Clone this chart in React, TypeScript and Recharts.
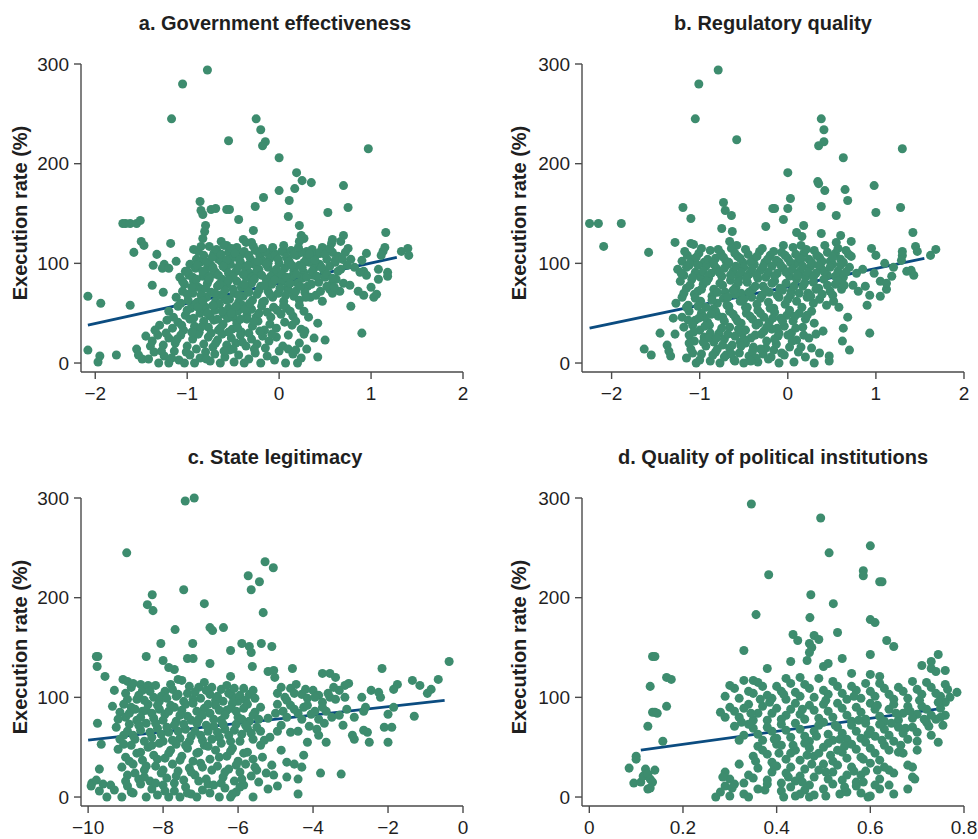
import React from 'react';
import { ScatterChart, Scatter, XAxis, YAxis, ReferenceLine } from 'recharts';

type Pt = [number, number];

// shared y ticks, per-panel x ticks
const yTicks = [0, 100, 200, 300];
const ticksGov = [-2, -1, 0, 1, 2];
const ticksReg = [-2, -1, 0, 1, 2];
const ticksLeg = [-10, -8, -6, -4, -2, 0];
const ticksPol = [0, 0.2, 0.4, 0.6, 0.8];

// fitted lines (end points)
const trendGov: Pt[] = [[-2.08, 38], [1.28, 106]];
const trendReg: Pt[] = [[-2.25, 35], [1.55, 105]];
const trendLeg: Pt[] = [[-10, 57], [-0.49, 97]];
const trendPol: Pt[] = [[0.11, 47], [0.754, 89]];

// a. Government effectiveness
const govEff: Pt[] = [
  [-0.78,294],[-1.05,280],[-1.17,245],[-0.25,245],[-0.2,234],[-0.15,222],[-0.18,218],[-0.55,223],[0.0,206],[0.97,215],
  [0.19,191],[0.25,183],[0.35,181],[0.7,178],[0.0,173],[0.17,175],[-0.17,166],[0.11,163],[-0.26,157],[0.75,156],
  [0.53,151],[-0.86,162],[-0.85,153],[-0.83,149],[-0.74,154],[-0.69,155],[-0.57,154],[-0.54,154],[-0.44,144],[0.1,147],
  [-0.28,133],[-0.8,138],[-0.81,132],[-0.83,125],[0.22,138],[0.24,128],[0.27,125],[0.22,122],[1.16,131],[-1.7,140],
  [-1.67,140],[-1.62,140],[-1.55,140],[-1.51,143],[-1.5,122],[-1.47,118],[-1.58,111],[-1.18,120],[-1.33,109],[-1.37,98],
  [-1.25,99],[-1.27,95],[-1.38,78],[-1.26,71],[-1.62,58],[-2.08,67],[-1.94,60],[-2.08,13],[-1.95,7],[-1.97,1],
  [-1.77,8],[-1.55,14],[-1.53,8],[-1.49,4],[0.42,6],[0.5,23],[0.9,30],[0.78,57],[0.42,40],[0.38,25],
  [0.95,110],[1.03,66],[1.06,69],[1.0,76],[1.08,84],[1.08,94],[1.18,91],[1.18,87],[1.13,112],[1.15,116],
  [1.11,108],[1.33,112],[1.4,115],[1.41,108],[0.75,115],[0.7,128],[0.67,122],[0.57,120],[0.58,124],[0.9,103],
  [0.92,92],[0.95,88],[0.92,68],[0.86,72],[-1.12,102],[-1.2,95],[-0.63,122],[-0.57,118],[-0.39,124],[-0.3,121],
  [-0.1,111],[0.05,112],[0.3,112],[0.45,110],
  [-0.93,114],[-0.88,112],[-0.82,108],[-0.76,117],[-0.71,110],[-0.66,104],[-0.6,118],[-0.55,111],[-0.5,106],[-0.46,116],
  [-0.41,109],[-0.36,121],[-0.31,104],[-0.26,113],[-0.21,108],[-0.15,111],[-0.1,105],[-0.04,109],[0.03,112],[0.08,106],
  [0.13,113],[0.19,108],[0.24,111],[0.3,105],[0.36,114],[0.41,109],[0.47,116],[0.52,104],[0.58,111],[0.64,107],
  [0.72,111],[0.78,104],
  [-1.02,92],[-0.97,99],[-0.91,95],[-0.86,101],[-0.8,93],[-0.74,98],[-0.69,91],[-0.63,102],[-0.58,95],[-0.53,99],
  [-0.47,92],[-0.42,101],[-0.37,96],[-0.32,90],[-0.27,99],[-0.22,94],[-0.17,102],[-0.12,96],[-0.06,91],[0.0,100],
  [0.06,95],[0.11,102],[0.16,93],[0.22,98],[0.27,91],[0.33,101],[0.38,95],[0.44,99],[0.49,92],[0.55,97],
  [0.61,101],[0.67,94],[0.74,98],[0.82,96],[0.88,91],
  [-1.08,86],[-1.03,79],[-0.98,88],[-0.93,82],[-0.88,76],[-0.83,87],[-0.78,80],[-0.72,89],[-0.67,77],[-0.62,84],
  [-0.57,79],[-0.52,88],[-0.46,82],[-0.41,76],[-0.36,86],[-0.3,80],[-0.25,89],[-0.2,77],[-0.14,84],[-0.08,79],
  [-0.03,88],[0.03,82],[0.09,76],[0.14,87],[0.2,80],[0.25,85],[0.31,77],[0.37,88],[0.43,81],[0.5,86],
  [0.56,78],[0.62,84],[0.7,80],[0.77,78],[0.55,74],
  [-1.12,66],[-1.05,72],[-0.99,63],[-0.94,70],[-0.89,61],[-0.84,74],[-0.79,66],[-0.74,71],[-0.69,62],[-0.64,68],
  [-0.59,73],[-0.54,64],[-0.49,70],[-0.44,61],[-0.39,67],[-0.34,74],[-0.29,63],[-0.24,69],[-0.18,61],[-0.12,72],
  [-0.07,66],[-0.01,70],[0.05,62],[0.1,73],[0.16,67],[0.22,63],[0.28,71],[0.34,66],[0.4,68],[0.47,62],
  [0.58,70],[0.66,72],
  [-1.2,52],[-1.1,57],[-1.02,48],[-0.96,55],[-0.91,59],[-0.86,50],[-0.8,56],[-0.75,47],[-0.7,53],[-0.65,59],
  [-0.6,49],[-0.55,55],[-0.5,46],[-0.45,52],[-0.4,58],[-0.35,48],[-0.3,54],[-0.25,46],[-0.19,57],[-0.13,51],
  [-0.06,56],[0.02,49],[0.08,55],[0.15,47],[0.22,58],[0.27,52],[0.32,46],
  [-1.3,38],[-1.22,43],[-1.16,35],[-1.1,41],[-1.04,33],[-0.97,44],[-0.92,37],[-0.87,31],[-0.82,42],[-0.77,36],
  [-0.71,43],[-0.66,33],[-0.61,39],[-0.56,45],[-0.51,34],[-0.46,40],[-0.41,31],[-0.35,44],[-0.29,37],[-0.23,42],
  [-0.16,33],[-0.1,39],[-0.03,35],[0.06,41],[0.14,38],[0.24,34],[0.28,32],
  [-1.45,27],[-1.38,22],[-1.32,28],[-1.26,18],[-1.2,25],[-1.13,20],[-1.07,28],[-1.0,17],[-0.94,24],[-0.88,29],
  [-0.82,19],[-0.77,26],[-0.72,16],[-0.67,23],[-0.62,29],[-0.57,18],[-0.52,25],[-0.47,20],[-0.42,28],[-0.36,17],
  [-0.3,24],[-0.24,19],[-0.18,27],[-0.11,22],[-0.03,26],[0.04,17],[0.1,14],[0.18,13],[0.22,20],[0.27,29],
  [0.3,14],
  [-1.42,4],[-1.36,11],[-1.31,0],[-1.25,7],[-1.2,0],[-1.14,12],[-1.09,3],[-1.03,0],[-0.97,8],[-0.92,0],
  [-0.86,5],[-0.8,11],[-0.75,2],[-0.7,9],[-0.64,0],[-0.59,6],[-0.54,13],[-0.49,1],[-0.44,8],[-0.38,0],
  [-0.33,4],[-0.26,10],[-0.2,0],[-0.13,7],[-0.05,3],[0.07,0],[0.15,9],[0.2,0],[0.24,5],
  [-0.9,104],[-0.85,117],[-0.79,101],[-0.73,106],[-0.68,114],[-0.63,109],[-0.57,103],[-0.52,115],[-0.48,110],[-0.43,103],
  [-0.38,112],[-0.33,108],[-0.28,117],[-0.23,102],[-0.18,115],[-0.12,100],[-0.07,116],[-0.01,104],[0.05,118],[0.1,101],
  [0.16,109],[0.21,116],[0.27,101],[0.33,109],[0.39,103],[0.44,111],[0.5,109],[0.55,115],[0.61,103],[0.69,104],
  [-0.99,91],[-0.94,86],[-0.89,98],[-0.83,92],[-0.77,86],[-0.72,96],[-0.66,88],[-0.61,97],[-0.55,90],[-0.5,86],
  [-0.45,96],[-0.39,89],[-0.34,98],[-0.29,86],[-0.24,93],[-0.19,88],[-0.14,99],[-0.09,87],[-0.03,94],[0.03,89],
  [0.08,86],[0.14,98],[0.19,89],[0.25,96],[0.3,86],[0.36,92],[0.41,87],[0.46,96],[0.52,89],[0.58,85],
  [0.64,92],
  [-1.05,82],[-1.0,69],[-0.95,76],[-0.9,84],[-0.85,68],[-0.8,75],[-0.76,84],[-0.7,70],[-0.65,79],[-0.6,66],
  [-0.55,83],[-0.5,74],[-0.44,68],[-0.38,79],[-0.33,71],[-0.27,84],[-0.22,73],[-0.16,78],[-0.1,69],[-0.05,83],
  [0.01,75],[0.07,68],[0.12,80],[0.18,72],[0.23,77],[0.29,66],[0.35,79],[0.45,72],[0.52,77],[0.6,76],
  [-1.15,46],[-1.07,60],[-1.0,53],[-0.93,45],[-0.88,56],[-0.83,62],[-0.78,50],[-0.72,58],[-0.67,44],[-0.62,52],
  [-0.57,63],[-0.52,50],[-0.47,57],[-0.42,44],[-0.37,54],[-0.32,60],[-0.27,42],[-0.22,50],[-0.16,62],[-0.09,46],
  [-0.02,53],[0.05,58],[0.12,52],[0.18,42],
  [-1.4,17],[-1.35,33],[-1.28,12],[-1.23,30],[-1.17,5],[-1.11,24],[-1.06,38],[-1.01,11],[-0.95,31],[-0.9,14],
  [-0.85,36],[-0.79,4],[-0.74,30],[-0.69,20],[-0.64,35],[-0.6,12],[-0.55,31],[-0.5,14],[-0.45,35],[-0.4,21],
  [-0.33,30],[-0.27,14],[-0.21,32],[-0.15,15],[-0.08,29],[0.0,12],[0.1,28],
];

// b. Regulatory quality
const regQual: Pt[] = [
  [-0.79,294],[-1.01,280],[-1.05,245],[-0.58,224],[0.38,245],[0.41,234],[0.41,222],[0.35,218],[0.63,206],[1.3,215],
  [0.0,191],[0.34,182],[0.35,180],[0.42,173],[0.03,165],[0.98,178],[0.65,174],[0.68,163],[0.38,157],[0.55,148],
  [1.0,151],[1.28,156],[0.0,155],[-0.17,155],[-0.15,155],[-0.05,144],[-0.25,137],[-0.73,161],[-0.71,153],[-0.64,148],
  [-0.75,135],[-0.63,132],[-1.19,156],[-1.1,145],[-2.25,140],[-2.15,140],[-1.89,140],[-2.09,117],[-1.58,111],[-1.28,121],
  [-1.1,120],[-1.07,119],[0.1,131],[0.16,127],[0.18,138],[0.38,130],[0.6,128],[0.72,122],[1.42,131],[1.3,112],
  [1.3,108],[1.29,103],[1.45,117],[1.47,112],[1.62,108],[1.68,114],[1.4,93],[1.43,88],[1.35,92],[0.93,30],
  [0.7,13],[0.68,46],[0.63,35],[0.62,22],[0.47,7],[0.47,2],[0.3,0],[0.07,1],[-1.63,14],[-1.55,8],
  [-1.45,30],[-1.37,18],[-1.35,12],[-1.33,7],[-1.3,45],[-1.28,29],[0.9,58],[0.88,77],[0.93,68],[0.98,90],
  [1.05,82],[1.05,67],[1.12,74],[1.18,87],[1.2,96],[1.1,100],[1.0,108],[0.95,115],[1.12,80],[-0.58,118],
  [-0.66,122],[0.15,118],[-0.05,118],[0.55,121],
  [-1.2,102],[-1.14,108],[-1.08,104],[-1.01,110],[-0.95,101],[-0.88,113],[-0.82,105],[-0.76,110],[-0.7,102],[-0.64,115],
  [-0.57,107],[-0.51,101],[-0.45,109],[-0.39,104],[-0.32,112],[-0.26,101],[-0.2,108],[-0.13,103],[-0.07,111],[0.0,105],
  [0.06,116],[0.12,102],[0.18,110],[0.24,104],[0.3,113],[0.36,106],[0.42,118],[0.48,102],[0.54,110],[0.6,104],
  [0.66,113],[0.72,107],
  [-1.25,94],[-1.18,88],[-1.12,98],[-1.05,91],[-0.99,86],[-0.93,97],[-0.87,90],[-0.81,95],[-0.75,87],[-0.68,99],
  [-0.62,92],[-0.56,86],[-0.5,96],[-0.44,89],[-0.38,99],[-0.31,93],[-0.25,86],[-0.18,97],[-0.12,90],[-0.05,95],
  [0.02,87],[0.08,99],[0.14,92],[0.2,86],[0.26,97],[0.32,90],[0.38,95],[0.45,88],[0.51,99],[0.57,92],
  [0.63,86],[0.7,96],[0.78,90],[0.85,94],
  [-1.22,82],[-1.15,75],[-1.09,84],[-1.02,72],[-0.96,79],[-0.9,85],[-0.84,74],[-0.77,80],[-0.71,71],[-0.65,83],
  [-0.59,76],[-0.53,70],[-0.46,81],[-0.4,74],[-0.34,85],[-0.28,77],[-0.21,71],[-0.15,82],[-0.09,75],[-0.02,80],
  [0.04,72],[0.1,84],[0.17,77],[0.23,70],[0.29,81],[0.35,75],[0.41,84],[0.48,72],[0.54,79],[0.61,74],
  [0.74,78],[0.8,72],
  [-1.27,60],[-1.2,66],[-1.13,58],[-1.06,69],[-0.99,62],[-0.93,56],[-0.86,67],[-0.8,60],[-0.73,65],[-0.67,57],
  [-0.6,69],[-0.54,62],[-0.48,56],[-0.41,66],[-0.35,59],[-0.29,68],[-0.22,61],[-0.16,55],[-0.1,66],[-0.03,59],
  [0.03,68],[0.1,62],[0.16,56],[0.22,66],[0.29,60],[0.36,64],[0.44,58],[0.52,62],[0.58,56],
  [-1.2,46],[-1.12,52],[-1.05,43],[-0.98,50],[-0.91,41],[-0.85,54],[-0.79,47],[-0.72,42],[-0.66,52],[-0.59,45],
  [-0.53,40],[-0.47,50],[-0.4,44],[-0.34,53],[-0.27,46],[-0.21,41],[-0.15,51],[-0.08,45],[-0.01,48],[0.06,42],
  [0.13,50],[0.2,44],[0.27,52],
  [-1.18,36],[-1.12,28],[-1.06,22],[-1.0,33],[-0.95,26],[-0.89,38],[-0.84,21],[-0.78,30],[-0.72,24],[-0.66,36],
  [-0.6,27],[-0.54,21],[-0.48,33],[-0.42,25],[-0.36,38],[-0.3,29],[-0.24,22],[-0.18,34],[-0.11,27],[-0.04,37],
  [0.04,30],[0.1,23],[0.17,36],[0.24,25],[0.32,29],[0.4,32],
  [-1.15,5],[-1.1,14],[-1.04,0],[-0.98,9],[-0.93,17],[-0.88,2],[-0.82,11],[-0.77,0],[-0.72,6],[-0.66,15],
  [-0.61,3],[-0.55,10],[-0.5,0],[-0.44,7],[-0.39,16],[-0.34,1],[-0.28,9],[-0.22,4],[-0.16,13],[-0.1,0],
  [-0.04,8],[0.02,16],[0.12,11],[0.2,6],[0.27,15],[0.36,10],
  [-1.17,112],[-1.11,100],[-1.04,106],[-0.98,115],[-0.91,104],[-0.85,101],[-0.79,114],[-0.73,106],[-0.67,101],[-0.6,110],
  [-0.54,105],[-0.48,114],[-0.42,101],[-0.35,107],[-0.29,115],[-0.23,104],[-0.16,112],[-0.1,101],[-0.03,108],[0.03,101],
  [0.09,109],[0.15,104],[0.21,114],[0.27,101],[0.33,108],[0.39,102],[0.45,111],[0.51,106],[0.57,115],[0.63,101],
  [0.69,109],
  [-1.21,90],[-1.15,96],[-1.08,86],[-1.02,98],[-0.96,92],[-0.9,87],[-0.84,99],[-0.78,91],[-0.72,95],[-0.65,88],
  [-0.59,97],[-0.53,91],[-0.47,85],[-0.41,94],[-0.35,88],[-0.28,97],[-0.22,91],[-0.15,87],[-0.08,98],[-0.02,91],
  [0.05,94],[0.11,88],[0.17,97],[0.23,91],[0.29,86],[0.35,98],[0.41,92],[0.48,96],[0.54,87],[0.6,98],
  [0.66,91],
  [-1.18,70],[-1.11,78],[-1.05,65],[-0.98,74],[-0.92,82],[-0.86,63],[-0.8,71],[-0.74,78],[-0.68,66],[-0.62,73],
  [-0.56,81],[-0.5,64],[-0.44,71],[-0.37,77],[-0.31,65],[-0.25,73],[-0.18,80],[-0.12,68],[-0.06,73],[0.0,64],
  [0.07,77],[0.13,70],[0.19,80],[0.26,67],[0.32,74],[0.39,69],[0.45,78],[0.51,68],[0.57,82],[0.64,78],
  [-1.15,56],[-1.08,38],[-1.02,57],[-0.95,46],[-0.88,30],[-0.82,52],[-0.75,35],[-0.69,58],[-0.63,18],[-0.57,42],
  [-0.52,30],[-0.46,56],[-0.4,12],[-0.33,40],[-0.27,32],[-0.2,55],[-0.13,19],[-0.06,42],[0.02,53],[0.09,35],
  [-1.12,20],[-1.0,3],[-0.9,25],[-0.8,14],[-0.7,8],[-0.6,2],[-0.48,20],[-0.36,5],[-0.25,15],[-0.15,24],
  [-0.07,10],[0.0,28],[0.15,16],[0.22,48],
  [-1.13,43],[-1.07,31],[-1.01,45],[-0.94,37],[-0.87,49],[-0.81,25],[-0.74,46],[-0.68,29],[-0.62,49],[-0.56,34],
  [-0.5,24],[-0.43,47],[-0.37,28],[-0.31,50],[-0.24,36],[-0.17,45],[-0.1,30],[-1.08,10],[-0.96,21],[-0.85,8],
  [-0.74,18],[-0.64,9],[-0.53,17],[-0.42,2],[-0.31,14],[-0.19,6],[-0.12,35],[0.05,22],[0.18,28],[0.3,40],
  [0.08,47],
];

// c. State legitimacy
const stateLeg: Pt[] = [
  [-7.17,300],[-7.41,297],[-8.97,245],[-5.28,236],[-5.06,230],[-5.73,222],[-5.43,216],[-5.65,208],[-7.45,208],[-8.29,203],
  [-8.42,193],[-8.27,187],[-5.33,185],[-6.9,194],[-7.68,168],[-6.75,170],[-6.68,167],[-6.39,170],[-8.06,154],[-7.21,154],
  [-6.2,147],[-5.9,154],[-5.7,151],[-5.65,145],[-5.38,154],[-5.1,151],[-7.35,139],[-7.2,139],[-8.45,141],[-8.0,137],
  [-7.7,128],[-7.85,130],[-6.75,134],[-5.62,131],[-5.2,126],[-5.05,127],[-5.02,120],[-4.55,129],[-9.78,141],[-9.74,141],
  [-9.76,131],[-9.55,121],[-9.3,107],[-9.07,118],[-8.95,116],[-9.75,74],[-9.65,53],[-9.7,28],[-9.9,14],[-9.92,11],
  [-9.78,17],[-9.7,6],[-9.6,13],[-9.5,0],[-9.4,12],[-3.8,24],[-3.25,23],[-4.4,3],[-4.4,18],[-4.3,30],
  [-4.5,33],[-2.0,55],[-1.3,81],[-2.1,70],[-1.9,70],[-2.0,83],[-1.85,90],[-2.16,129],[-0.37,136],[-0.66,118],
  [-0.85,108],[-0.95,104],[-1.15,112],[-1.35,117],[-1.75,113],[-1.85,108],[-2.2,100],[-2.25,105],[-2.45,107],[-2.5,55],
  [-2.55,65],[-2.65,67],[-2.65,86],[-2.6,90],[-2.7,100],[-2.9,58],[-2.95,62],[-3.05,114],[-3.15,112],[-3.3,107],
  [-3.15,100],[-3.55,124],[-3.75,124],[-3.4,120],[-3.45,110],[-3.55,100],[-3.65,55],[-6.2,121],[-7.6,118],[-8.6,113],
  [-9.0,104],[-8.85,110],[-8.7,98],[-8.55,107],[-8.4,112],[-8.25,100],[-8.1,96],[-7.95,106],[-7.8,113],[-7.65,101],
  [-7.5,117],[-7.35,104],[-7.2,98],[-7.05,110],[-6.9,115],[-6.75,103],[-6.6,97],[-6.45,108],[-6.3,112],[-6.15,101],
  [-6.0,96],[-5.85,109],[-5.7,103],[-5.55,99],[-4.95,104],[-4.75,100],[-4.6,109],[-4.45,113],[-4.3,103],[-4.15,99],
  [-4.0,107],[-3.85,102],[-3.4,98],
  [-9.35,91],[-9.15,85],[-9.0,80],[-8.85,90],[-8.7,77],[-8.55,86],[-8.4,93],[-8.25,79],[-8.1,88],[-7.95,83],
  [-7.8,92],[-7.65,76],[-7.5,87],[-7.35,81],[-7.2,94],[-7.05,78],[-6.9,89],[-6.75,84],[-6.6,92],[-6.45,77],
  [-6.3,87],[-6.15,94],[-6.0,80],[-5.85,89],[-5.7,76],[-5.55,85],[-5.4,90],[-5.2,79],[-4.95,93],[-4.8,86],
  [-4.6,92],[-4.4,84],[-4.25,90],[-4.05,83],[-3.85,78],[-3.65,86],[-3.3,82],[-3.1,88],[-2.9,80],
  [-9.25,70],[-9.05,62],[-8.9,73],[-8.75,58],[-8.6,67],[-8.45,74],[-8.3,60],[-8.15,69],[-8.0,56],[-7.85,65],
  [-7.7,72],[-7.55,59],[-7.4,68],[-7.25,61],[-7.1,74],[-6.95,57],[-6.8,66],[-6.65,71],[-6.5,60],[-6.35,68],
  [-6.2,56],[-6.05,73],[-5.9,63],[-5.75,69],[-5.6,58],[-5.4,66],[-5.15,60],[-4.85,72],[-4.6,65],[-4.1,71],
  [-3.9,68],[-3.7,74],[-3.2,72],
  [-9.2,48],[-9.0,40],[-8.85,52],[-8.7,44],[-8.55,37],[-8.4,50],[-8.25,42],[-8.1,54],[-7.95,39],[-7.8,47],
  [-7.65,53],[-7.5,41],[-7.35,49],[-7.2,36],[-7.05,45],[-6.9,52],[-6.75,38],[-6.6,47],[-6.45,54],[-6.3,41],
  [-6.15,49],[-6.0,36],[-5.85,44],[-5.6,38],[-5.4,52],[-4.85,47],[-4.7,35],[-4.25,42],[-4.15,55],
  [-9.1,30],[-8.95,22],[-8.8,33],[-8.65,18],[-8.5,27],[-8.35,16],[-8.2,31],[-8.05,24],[-7.9,19],[-7.75,33],
  [-7.6,26],[-7.45,17],[-7.3,29],[-7.15,22],[-7.0,34],[-6.85,18],[-6.7,27],[-6.55,31],[-6.4,20],[-6.25,28],
  [-6.1,16],[-5.95,25],[-5.8,33],[-5.65,21],[-5.5,27],[-5.25,24],[-5.05,22],[-4.7,20],
  [-9.3,7],[-9.1,0],[-8.95,11],[-8.8,4],[-8.6,13],[-8.45,0],[-8.3,8],[-8.15,2],[-8.0,12],[-7.85,0],
  [-7.7,6],[-7.55,0],[-7.4,10],[-7.25,3],[-7.1,0],[-6.95,7],[-6.8,13],[-6.5,0],[-6.35,9],[-6.2,0],
  [-6.05,5],[-5.85,12],[-5.6,0],[-5.2,8],[-4.95,11],
  [-8.95,98],[-8.8,114],[-8.65,102],[-8.5,97],[-8.35,106],[-8.2,112],[-8.05,101],[-7.9,99],[-7.75,108],[-7.6,103],
  [-7.45,96],[-7.3,111],[-7.15,105],[-7.0,99],[-6.85,107],[-6.7,110],[-6.55,101],[-6.4,96],[-6.25,104],[-6.1,109],
  [-5.95,102],[-5.8,97],[-5.6,107],[-4.85,110],[-4.7,97],[-4.5,104],[-4.2,108],[-3.95,100],[-3.75,95],[-3.6,104],
  [-9.2,78],[-9.05,93],[-8.9,84],[-8.75,88],[-8.6,80],[-8.45,87],[-8.3,84],[-8.15,92],[-8.0,77],[-7.85,86],
  [-7.7,90],[-7.55,82],[-7.4,93],[-7.25,77],[-7.1,86],[-6.95,82],[-6.8,93],[-6.65,78],[-6.5,87],[-6.35,82],
  [-6.2,89],[-6.05,86],[-5.9,78],[-5.75,93],[-5.6,82],[-5.45,78],[-5.0,84],[-4.7,80],[-4.5,88],[-4.3,78],
  [-4.15,92],[-3.95,86],[-3.75,90],[-3.5,80],
  [-9.15,58],[-8.95,66],[-8.8,62],[-8.65,72],[-8.5,56],[-8.35,65],[-8.2,74],[-8.05,63],[-7.9,70],[-7.75,57],
  [-7.6,66],[-7.45,73],[-7.3,56],[-7.15,66],[-7.0,62],[-6.85,72],[-6.7,58],[-6.55,65],[-6.4,73],[-6.25,62],
  [-6.1,67],[-5.95,56],[-5.8,72],[-5.65,64],[-5.5,70],[-5.3,57],[-4.95,66],[-4.4,66],[-3.85,62],
  [-9.05,53],[-8.9,36],[-8.75,24],[-8.6,45],[-8.45,31],[-8.3,52],[-8.15,38],[-8.0,27],[-7.85,44],[-7.7,14],
  [-7.55,37],[-7.4,52],[-7.25,25],[-7.1,44],[-6.95,30],[-6.8,51],[-6.65,12],[-6.5,40],[-6.35,25],[-6.2,46],
  [-6.05,32],[-5.9,18],[-5.75,45],[-5.55,30],[-5.35,40],[-9.0,16],[-8.85,5],[-8.5,20],[-8.2,14],[-7.95,6],
  [-7.65,21],[-7.35,4],[-7.05,16],[-6.75,4],[-6.45,14],[-6.15,3],[-5.95,10],[-5.45,15],[-5.1,32],
];

// d. Quality of political institutions
const polInst: Pt[] = [
  [0.346,294],[0.494,280],[0.512,245],[0.6,252],[0.585,227],[0.585,222],[0.62,216],[0.625,216],[0.383,223],[0.473,203],
  [0.521,194],[0.471,180],[0.356,183],[0.6,178],[0.61,175],[0.53,165],[0.435,163],[0.445,157],[0.48,162],[0.49,158],
  [0.47,154],[0.475,150],[0.47,145],[0.635,157],[0.65,151],[0.33,147],[0.6,143],[0.54,139],[0.465,137],[0.43,136],
  [0.5,131],[0.51,134],[0.38,129],[0.745,143],[0.71,132],[0.73,129],[0.74,126],[0.76,127],[0.73,136],[0.785,105],
  [0.77,100],[0.76,95],[0.745,55],[0.7,56],[0.7,47],[0.69,30],[0.695,18],[0.69,20],[0.68,32],[0.68,8],
  [0.65,3],[0.65,24],[0.66,45],[0.67,44],[0.135,141],[0.14,141],[0.165,120],[0.175,118],[0.13,111],[0.165,91],
  [0.135,85],[0.14,85],[0.145,84],[0.125,71],[0.157,56],[0.1,41],[0.1,38],[0.085,29],[0.095,14],[0.11,15],
  [0.115,21],[0.12,28],[0.125,23],[0.13,18],[0.135,15],[0.14,27],[0.125,8],[0.13,9],[0.6,123],[0.62,121],
  [0.56,124],[0.42,119],[0.35,117],[0.45,120],
  [0.29,101],[0.31,109],[0.33,117],[0.35,104],[0.37,111],[0.39,99],[0.41,106],[0.43,114],[0.45,101],[0.47,109],
  [0.49,119],[0.51,103],[0.53,111],[0.55,98],[0.57,107],[0.59,114],[0.61,101],[0.63,109],[0.65,98],[0.67,106],
  [0.69,116],[0.71,103],[0.73,110],[0.75,101],[0.765,108],
  [0.28,85],[0.3,90],[0.32,80],[0.34,93],[0.36,84],[0.38,77],[0.4,89],[0.42,82],[0.44,94],[0.46,78],
  [0.48,87],[0.5,93],[0.52,80],[0.54,89],[0.56,76],[0.58,85],[0.6,94],[0.62,81],[0.64,88],[0.66,77],
  [0.68,91],[0.7,83],[0.72,88],[0.74,78],[0.76,82],
  [0.31,71],[0.33,62],[0.35,69],[0.37,57],[0.39,66],[0.41,73],[0.43,60],[0.45,68],[0.47,56],[0.49,72],
  [0.51,63],[0.53,70],[0.55,58],[0.57,66],[0.59,74],[0.61,61],[0.63,68],[0.65,56],[0.67,64],[0.69,70],
  [0.72,75],[0.755,72],
  [0.36,51],[0.38,43],[0.4,53],[0.42,38],[0.44,47],[0.46,54],[0.48,41],[0.5,50],[0.52,36],[0.54,45],
  [0.56,53],[0.58,40],[0.6,49],[0.62,37],[0.64,47],[0.665,52],
  [0.29,25],[0.3,18],[0.32,33],[0.34,22],[0.36,29],[0.38,17],[0.4,31],[0.42,24],[0.44,16],[0.46,28],
  [0.48,20],[0.5,33],[0.52,25],[0.54,17],[0.56,30],[0.58,22],[0.6,34],[0.62,18],[0.64,27],
  [0.27,0],[0.28,5],[0.29,11],[0.3,1],[0.31,13],[0.33,3],[0.34,0],[0.36,8],[0.38,13],[0.41,6],
  [0.43,10],[0.44,1],[0.46,7],[0.47,0],[0.48,2],[0.5,8],[0.52,13],[0.535,3],[0.55,5],[0.57,11],
  [0.595,0],[0.6,1],[0.62,8],
  [0.3,112],[0.32,99],[0.34,106],[0.36,115],[0.38,102],[0.4,111],[0.42,98],[0.44,105],[0.46,113],[0.48,100],
  [0.5,107],[0.52,116],[0.54,104],[0.56,111],[0.58,99],[0.6,106],[0.62,114],[0.64,103],[0.66,110],[0.68,99],
  [0.7,108],[0.72,115],[0.74,104],[0.76,113],
  [0.29,80],[0.31,86],[0.33,89],[0.35,77],[0.37,91],[0.39,84],[0.41,78],[0.43,88],[0.45,83],[0.47,92],
  [0.49,79],[0.51,86],[0.53,94],[0.55,82],[0.57,90],[0.59,78],[0.61,88],[0.63,76],[0.65,93],[0.67,84],
  [0.69,79],[0.71,91],[0.73,82],[0.75,89],
  [0.32,57],[0.34,73],[0.36,63],[0.38,70],[0.4,59],[0.42,67],[0.44,74],[0.46,61],[0.48,66],[0.5,75],
  [0.52,57],[0.54,64],[0.56,72],[0.58,59],[0.6,67],[0.62,73],[0.64,62],[0.66,70],[0.68,58],[0.7,65],
  [0.73,62],[0.75,80],
  [0.35,41],[0.37,47],[0.39,35],[0.41,52],[0.43,44],[0.45,37],[0.47,49],[0.49,44],[0.51,54],[0.53,47],
  [0.55,39],[0.57,48],[0.59,55],[0.61,44],[0.63,52],[0.39,25],[0.41,14],[0.43,30],[0.45,21],[0.47,12],
  [0.49,27],[0.51,18],[0.53,32],[0.55,22],[0.57,15],[0.59,26],[0.61,12],[0.63,30],[0.33,14],[0.35,19],
  [0.45,3],[0.58,4],[0.64,12],
  [0.385,95],[0.415,103],[0.455,88],[0.505,97],[0.525,72],[0.565,101],[0.615,92],[0.655,84],[0.705,97],[0.725,71],
  [0.395,58],[0.435,52],[0.485,61],[0.545,51],[0.575,77],[0.625,57],[0.685,86],[0.345,84],[0.325,75],[0.365,98],
  [0.405,44],[0.465,42],[0.515,42],[0.535,58],[0.595,63],[0.645,74],[0.675,69],[0.715,78],[0.745,95],[0.425,20],
  [0.475,33],[0.505,25],[0.565,26],[0.585,38],[0.615,27],[0.375,7],[0.415,0],[0.505,1],[0.545,10],[0.585,15],
  [0.455,15],[0.395,31],[0.355,36],[0.305,9],[0.285,20],
];

const DOT = '#3d8c6e';
const LINE = '#0b4c80';
const AXIS = '#4a4a4a';
const TEXT = '#1f1f1f';
const FONT = "'Liberation Sans', Arial, Helvetica, sans-serif";

const fmt = (v: number) => String(v).replace('-', '\u2212');

interface PanelProps {
  title: string;
  data: Pt[];
  xDomain: [number, number];
  xTicks: number[];
  trend: Pt[];
  left: number;
  top: number;
  axisWidth: number;
  rightGap: number;
  titleX: number;
  labelX: number;
}

const Panel: React.FC<PanelProps> = ({ title, data, xDomain, xTicks, trend, left, top, axisWidth, rightGap, titleX, labelX }) => {
  const rows = data.map(([x, y]) => ({ x, y }));
  return (
    <div style={{ position: 'absolute', left, top, width: 489, height: 420 }}>
      <div
        style={{
          position: 'absolute', left: titleX - 200, top: 13, width: 400, textAlign: 'center',
          fontFamily: FONT, fontSize: 20, fontWeight: 700, lineHeight: '20px', color: TEXT,
        }}
      >
        {title}
      </div>
      <ScatterChart width={489} height={420} margin={{ top: 64, right: rightGap, bottom: 18, left: 0 }}>
        <XAxis
          type="number" dataKey="x" domain={xDomain} ticks={xTicks} interval={0}
          height={30} tickSize={7} tickMargin={8} stroke={AXIS} strokeWidth={1.4}
          tick={{ fill: TEXT, fontSize: 19, fontFamily: FONT }} tickFormatter={fmt}
        />
        <YAxis
          type="number" dataKey="y" domain={[-9, 300]} ticks={yTicks} interval={0}
          width={axisWidth} tickSize={7} tickMargin={5} stroke={AXIS} strokeWidth={1.4}
          tick={{ fill: TEXT, fontSize: 19, fontFamily: FONT }}
          label={{
            content: () => (
              <text
                x={labelX} y={213} transform={`rotate(-90 ${labelX} 213)`} textAnchor="middle"
                dominantBaseline="central" fontFamily={FONT} fontSize={20} fontWeight={700} fill={TEXT}
              >
                Execution rate (%)
              </text>
            ),
          }}
        />
        <Scatter data={rows} fill={DOT} isAnimationActive={false} />
        <ReferenceLine
          segment={[{ x: trend[0][0], y: trend[0][1] }, { x: trend[1][0], y: trend[1][1] }]}
          stroke={LINE} strokeWidth={2.8}
        />
      </ScatterChart>
    </div>
  );
};

export default function App() {
  return (
    <div style={{ position: 'absolute', left: 0, top: 0, width: 978, height: 839, background: '#fff', overflow: 'hidden' }}>
      <Panel title="a. Government effectiveness" data={govEff} xDomain={[-2.155, 2]} xTicks={ticksGov} trend={trendGov}
        left={0} top={0} axisWidth={81} rightGap={26} titleX={275} labelX={20} />
      <Panel title="b. Regulatory quality" data={regQual} xDomain={[-2.336, 2]} xTicks={ticksReg} trend={trendReg}
        left={489} top={0} axisWidth={93} rightGap={14} titleX={284} labelX={30} />
      <Panel title="c. State legitimacy" data={stateLeg} xDomain={[-10.19, 0]} xTicks={ticksLeg} trend={trendLeg}
        left={0} top={434} axisWidth={81} rightGap={26} titleX={275} labelX={20} />
      <Panel title="d. Quality of political institutions" data={polInst} xDomain={[-0.0156, 0.8]} xTicks={ticksPol} trend={trendPol}
        left={489} top={434} axisWidth={93} rightGap={14} titleX={284} labelX={30} />
    </div>
  );
}
